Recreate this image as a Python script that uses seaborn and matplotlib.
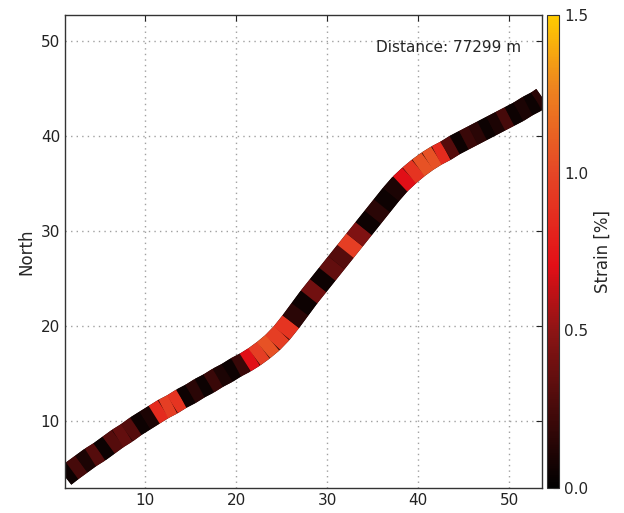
import numpy as np
import pandas as pd
import matplotlib
matplotlib.use("Agg")
import matplotlib.pyplot as plt
from matplotlib.colors import LinearSegmentedColormap, Normalize
from matplotlib.cm import ScalarMappable
import seaborn as sns

# PATH (east, north)
east = [1.2, 2, 3, 4, 5, 6, 7, 8, 9, 10, 11, 12, 13, 14, 15, 16, 17, 18, 19, 20,
        21, 22, 23, 24, 25, 26, 27, 28, 29, 30, 31, 32, 33, 34, 35, 36, 37, 38, 39, 40,
        41, 42, 43, 44, 45, 46, 47, 48, 49, 50, 51, 52, 53, 53.6]
north = [4.2, 4.8, 5.5, 6.2, 6.8, 7.5, 8.2, 8.8, 9.5, 10.1, 10.7, 11.3, 11.8, 12.4, 12.9, 13.5, 14.0, 14.6, 15.1, 15.7,
         16.2, 16.8, 17.5, 18.3, 19.3, 20.5, 21.8, 23.1, 24.3, 25.5, 26.7, 27.9, 29.1, 30.3, 31.5, 32.7, 33.9, 35.0, 35.9, 36.7,
         37.4, 38.0, 38.5, 39.1, 39.6, 40.1, 40.6, 41.1, 41.6, 42.1, 42.6, 43.2, 43.7, 44.1]
# strain for each piece between two path points
strain = [0.05, 0.25, 0.1, 0.3, 0.05, 0.3, 0.35, 0.3, 0.05, 0.1, 0.85, 0.95, 0.9, 0.05, 0.15, 0.05, 0.2, 0.1, 0.05,
          0.2, 0.7, 0.95, 1.05, 0.95, 0.9, 0.15, 0.05, 0.4, 0.05, 0.35, 0.3, 0.95, 0.45, 0.05, 0.15, 0.05, 0.1, 0.7, 0.9,
          1.05, 1.05, 0.85, 0.3, 0.05, 0.2, 0.15, 0.05, 0.1, 0.25, 0.05, 0.1, 0.05, 0.15]
distance = 77299

rows = []
for i in range(len(strain)):
    rows.append({"seg": i, "x": east[i], "y": north[i]})
    rows.append({"seg": i, "x": east[i + 1], "y": north[i + 1]})
df = pd.DataFrame(rows)

cmap = LinearSegmentedColormap.from_list("strain", [
    (0.0, (0.0, 0.0, 0.0)),
    (0.33, (0.55, 0.08, 0.08)),
    (0.47, (0.89, 0.06, 0.09)),
    (0.67, (0.9, 0.28, 0.15)),
    (0.85, (0.93, 0.52, 0.12)),
    (1.0, (1.0, 0.8, 0.0)),
])
norm = Normalize(0, 1.5)
seg_colors = [cmap(norm(s)) for s in strain]

sns.set_style("white")
plt.rcParams["font.family"] = ["DejaVu Sans"]

fig = plt.figure(figsize=(6.24, 5.13), dpi=100)
ax = fig.add_axes([0.104, 0.049, 0.765, 0.922])
# dark base track so the joints between pieces stay filled
sns.lineplot(x=east, y=north, sort=False, color=cmap(norm(0.12)), linewidth=15,
             solid_capstyle="butt", solid_joinstyle="round", ax=ax)
# coloured pieces, drawn in path order
sns.lineplot(data=df, x="x", y="y", hue="seg", units="seg", estimator=None, sort=False,
             palette=seg_colors, linewidth=15, solid_capstyle="butt",
             legend=False, ax=ax)
ax.set_xlim(1.2, 53.6)
ax.set_ylim(3.0, 52.8)
ax.set_xticks([10, 20, 30, 40, 50])
ax.set_yticks([10, 20, 30, 40, 50])
ax.grid(True, linestyle=(0, (1, 3)), color="#a0a0a0", linewidth=1)
ax.set_axisbelow(True)
ax.tick_params(direction="in", top=True, right=True, length=4, labelsize=11, colors="#222222")
for s in ax.spines.values():
    s.set_color("#333333")
    s.set_linewidth(1.0)
ax.set_xlabel("")
ax.set_ylabel("North", fontsize=12)
ax.text(0.956, 0.932, f"Distance: {distance} m", transform=ax.transAxes,
        ha="right", va="center", fontsize=11)

cax = fig.add_axes([0.877, 0.049, 0.019, 0.922])
sm = ScalarMappable(norm=norm, cmap=cmap)
cb = fig.colorbar(sm, cax=cax, ticks=[0.0, 0.5, 1.0, 1.5])
cb.ax.set_yticklabels(["0.0", "0.5", "1.0", "1.5"])
cb.ax.tick_params(direction="in", length=4, labelsize=11)
cb.set_label("Strain [%]", fontsize=12)
cb.outline.set_edgecolor("#333333")

fig.savefig("out.png", dpi=100)
